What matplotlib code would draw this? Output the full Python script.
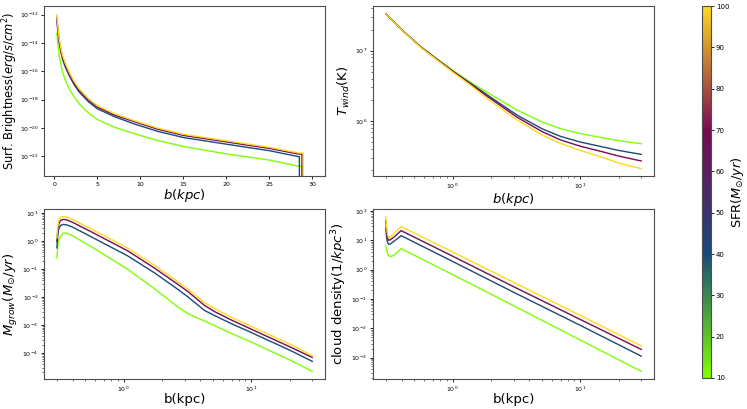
import numpy as np
import matplotlib
matplotlib.use("Agg")
import matplotlib.pyplot as plt
from matplotlib.colors import LinearSegmentedColormap, Normalize
from matplotlib.cm import ScalarMappable

# SFR values of the four runs (M_sun/yr)
sfr = [10, 40, 70, 100]

# surface brightness, log10(erg/s/cm^2) vs b (kpc), linear x
b_sb = [0.31, 0.4, 0.58, 0.8, 0.97, 1.3, 1.74, 2.3, 2.9, 4.0, 5.0, 7.0, 9.3, 12, 15, 20, 25, 28.4]
sb_log = [
    [-13.34, -14.0, -14.88, -15.6, -16.06, -16.64, -17.24, -17.8, -18.3, -18.95, -19.4, -19.95, -20.4, -20.88, -21.3, -21.83, -22.26, -22.7],
    [-12.4, -13.05, -14.0, -14.72, -15.15, -15.72, -16.3, -16.93, -17.46, -18.16, -18.64, -19.2, -19.71, -20.23, -20.67, -21.14, -21.6, -22.02],
    [-12.2, -12.85, -13.85, -14.58, -15.0, -15.58, -16.18, -16.8, -17.34, -18.04, -18.52, -19.09, -19.55, -20.08, -20.52, -20.98, -21.44, -21.84],
    [-12.0, -12.69, -13.7, -14.44, -14.88, -15.46, -16.06, -16.7, -17.24, -17.94, -18.42, -18.99, -19.48, -20.0, -20.44, -20.9, -21.36, -21.76],
]
sb_cut = [28.8, 28.5, 28.8, 28.95]  # edge where the projected emission ends

# wind temperature, log10(K)
b_t = [0.3, 0.415, 0.561, 0.758, 1.02, 1.38, 1.87, 3.22, 5, 7, 10, 15, 20, 30]
t_log = [
    [7.524, 7.271, 7.06, 6.88, 6.71, 6.55, 6.405, 6.152, 5.986, 5.89, 5.82, 5.76, 5.72, 5.676],
    [7.524, 7.271, 7.057, 6.876, 6.70, 6.535, 6.37, 6.08, 5.89, 5.78, 5.70, 5.63, 5.58, 5.524],
    [7.524, 7.27, 7.055, 6.872, 6.695, 6.525, 6.35, 6.05, 5.85, 5.73, 5.64, 5.56, 5.50, 5.43],
    [7.524, 7.268, 7.05, 6.865, 6.685, 6.51, 6.32, 6.01, 5.80, 5.68, 5.58, 5.48, 5.40, 5.32],
]

# cloud mass growth rate, log10(M_sun/yr)
b_m = [0.3, 0.305, 0.31, 0.32, 0.338, 0.36, 0.4, 0.588, 1.07, 1.74, 2.65, 3.2, 4.3, 5.2, 6.97, 10, 20, 30]
m_log = [
    [-0.6, -0.2, 0.0, 0.17, 0.29, 0.28, 0.19, -0.26, -1.0, -1.7, -2.35, -2.6, -2.86, -3.03, -3.3, -3.61, -4.25, -4.66],
    [-0.24, 0.2, 0.42, 0.56, 0.6, 0.58, 0.5, 0.1, -0.52, -1.13, -1.72, -2.0, -2.48, -2.67, -2.95, -3.27, -3.9, -4.3],
    [0.0, 0.38, 0.6, 0.74, 0.78, 0.76, 0.67, 0.28, -0.34, -0.96, -1.54, -1.81, -2.3, -2.53, -2.82, -3.15, -3.78, -4.16],
    [0.12, 0.5, 0.72, 0.85, 0.88, 0.86, 0.77, 0.38, -0.24, -0.86, -1.45, -1.72, -2.2, -2.42, -2.72, -3.05, -3.68, -4.1],
]

# cloud number density, log10(1/kpc^3)
b_n = [0.3, 0.303, 0.306, 0.31, 0.316, 0.325, 0.35, 0.375, 0.395, 1, 3, 10, 30]
n_log = [
    [0.82, 0.72, 0.63, 0.55, 0.48, 0.44, 0.5, 0.62, 0.72, -0.17, -1.23, -2.4, -3.47],
    [1.41, 1.18, 1.02, 0.92, 0.86, 0.87, 0.98, 1.08, 1.16, 0.28, -0.77, -1.9, -2.95],
    [1.67, 1.42, 1.22, 1.08, 1.0, 1.02, 1.12, 1.24, 1.33, 0.46, -0.58, -1.7, -2.72],
    [1.81, 1.55, 1.35, 1.18, 1.08, 1.1, 1.25, 1.37, 1.47, 0.607, -0.43, -1.56, -2.6],
]

cmap = LinearSegmentedColormap.from_list(
    "sfr", ["#7fff00", "#1a4a7a", "#7a0a50", "#ffd820"])
norm = Normalize(vmin=10, vmax=100)

fig = plt.figure(figsize=(7.47, 4.09), dpi=100)
gs = fig.add_gridspec(2, 2, left=0.059, right=0.8755, top=0.985, bottom=0.073,
                      wspace=0.171, hspace=0.19)
ax_sb = fig.add_subplot(gs[0, 0])
ax_t = fig.add_subplot(gs[0, 1])
ax_m = fig.add_subplot(gs[1, 0])
ax_n = fig.add_subplot(gs[1, 1])

lw = 1.0
for i, s in enumerate(sfr):
    c = cmap(norm(s))
    xb = b_sb + [sb_cut[i], sb_cut[i]]
    yb = sb_log[i] + [sb_log[i][-1], -40]
    ax_sb.plot(xb, 10.0 ** np.array(yb), color=c, lw=lw)
    ax_t.plot(b_t, 10.0 ** np.array(t_log[i]), color=c, lw=lw)
    ax_m.plot(b_m, 10.0 ** np.array(m_log[i]), color=c, lw=lw)
    ax_n.plot(b_n, 10.0 ** np.array(n_log[i]), color=c, lw=lw)

ax_sb.set_yscale("log")
ax_sb.set_xlim(-1.18, 31.48)
ax_sb.set_ylim(10 ** -23.42, 10 ** -11.4)
ax_sb.set_yticks([10.0 ** k for k in range(-22, -11, 2)])
ax_sb.minorticks_off()
ax_sb.set_xlabel("$b(kpc)$", fontsize=9.5, labelpad=0)
ax_sb.set_ylabel("Surf. Brightness($erg/s/cm^2$)", fontsize=8.3, labelpad=0)

for ax in (ax_t, ax_m, ax_n):
    ax.set_xscale("log")
    ax.set_yscale("log")

ax_t.set_xlabel("$b(kpc)$", fontsize=9.5, labelpad=0)
ax_t.set_ylabel("$T_{wind}$(K)", fontsize=9.5, labelpad=2)
ax_m.set_xlabel("b(kpc)", fontsize=9.5, labelpad=-1)
ax_m.set_ylabel(r"$\dot{M}_{grow}(M_{\odot}/yr)$", fontsize=9.5, labelpad=2)
ax_n.set_xlabel("b(kpc)", fontsize=9.5, labelpad=-1)
ax_n.set_ylabel("cloud density($1/kpc^3$)", fontsize=9.5, labelpad=2)

for ax in (ax_sb, ax_t, ax_m, ax_n):
    ax.tick_params(which="major", labelsize=4.5, length=2.5, width=0.6, pad=1.5)
    ax.tick_params(which="minor", length=1.5, width=0.4)
    for sp in ax.spines.values():
        sp.set_color("0.3")
        sp.set_linewidth(0.8)

cax = fig.add_axes([0.9398, 0.0758, 0.012, 0.9095])
cb = fig.colorbar(ScalarMappable(norm=norm, cmap=cmap), cax=cax,
                  ticks=list(range(10, 101, 10)))
cb.ax.tick_params(labelsize=5, length=2, width=0.6, pad=1.5)
cb.outline.set_edgecolor("0.3")
cb.outline.set_linewidth(0.8)
cb.set_label(r"SFR($M_{\odot}/yr$)", fontsize=9.3, labelpad=0)

fig.savefig("out.png", dpi=100)
